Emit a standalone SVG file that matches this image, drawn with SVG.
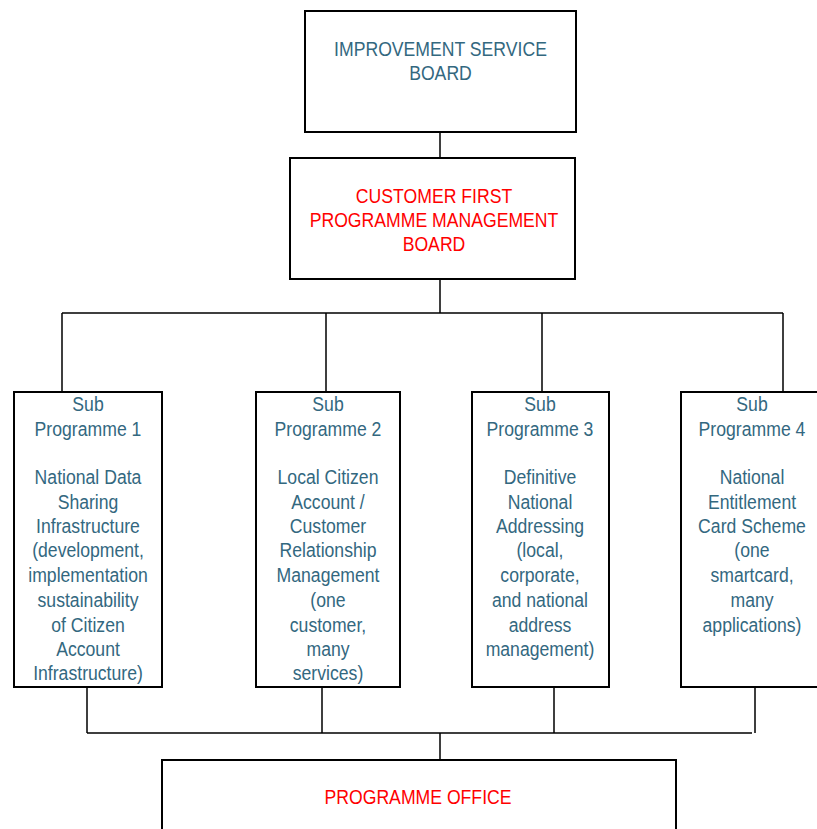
<svg xmlns="http://www.w3.org/2000/svg" width="817" height="829" viewBox="0 0 817 829">
<style>
.box{fill:#fff;stroke:#000;stroke-width:2}
.t{font-family:"Liberation Sans Narrow","Arial Narrow","Liberation Sans",sans-serif;font-size:21px;text-anchor:middle;fill:#33687f}
.r{fill:#ff0000}
.c{stroke:#000;stroke-width:1.5;fill:none}
</style>
<rect width="817" height="829" fill="#fff"/>
<g id="connectors">
<path class="c" d="M440 132V158M440 279V313M62 313H783M62 313V392M326 313V392M542 313V392M783 313V392"/>
<path class="c" d="M87 687V733M322 687V733M554 687V733M755 687V733M87 733H752M440 733V760"/>
</g>
<g id="isb">
<rect class="box" x="305" y="11" width="271" height="121"/>
<g transform="translate(440.5 0) scale(0.84 1)">
<text class="t" x="0" y="56">IMPROVEMENT SERVICE</text>
<text class="t" x="0" y="80">BOARD</text>
</g>
</g>
<g id="cfpmb">
<rect class="box" x="290" y="158" width="285" height="121"/>
<g transform="translate(434 0) scale(0.84 1)">
<text class="t r" x="0" y="203">CUSTOMER FIRST</text>
<text class="t r" x="0" y="227">PROGRAMME MANAGEMENT</text>
<text class="t r" x="0" y="251">BOARD</text>
</g>
</g>
<g id="sub1">
<rect class="box" x="14" y="392" width="148" height="295"/>
<g transform="translate(88 0) scale(0.84 1)">
<text class="t" x="0"><tspan x="0" y="411">Sub</tspan><tspan x="0" y="436">Programme 1</tspan><tspan x="0" y="484">National Data</tspan><tspan x="0" y="509">Sharing</tspan><tspan x="0" y="533">Infrastructure</tspan><tspan x="0" y="557">(development,</tspan><tspan x="0" y="582">implementation</tspan><tspan x="0" y="607">sustainability</tspan><tspan x="0" y="632">of Citizen</tspan><tspan x="0" y="656">Account</tspan><tspan x="0" y="680">Infrastructure)</tspan></text>
</g>
</g>
<g id="sub2">
<rect class="box" x="256" y="392" width="144" height="295"/>
<g transform="translate(328 0) scale(0.84 1)">
<text class="t" x="0"><tspan x="0" y="411">Sub</tspan><tspan x="0" y="436">Programme 2</tspan><tspan x="0" y="484">Local Citizen</tspan><tspan x="0" y="509">Account /</tspan><tspan x="0" y="533">Customer</tspan><tspan x="0" y="557">Relationship</tspan><tspan x="0" y="582">Management</tspan><tspan x="0" y="607">(one</tspan><tspan x="0" y="632">customer,</tspan><tspan x="0" y="656">many</tspan><tspan x="0" y="680">services)</tspan></text>
</g>
</g>
<g id="sub3">
<rect class="box" x="472" y="392" width="137" height="295"/>
<g transform="translate(540 0) scale(0.84 1)">
<text class="t" x="0"><tspan x="0" y="411">Sub</tspan><tspan x="0" y="436">Programme 3</tspan><tspan x="0" y="484">Definitive</tspan><tspan x="0" y="509">National</tspan><tspan x="0" y="533">Addressing</tspan><tspan x="0" y="557">(local,</tspan><tspan x="0" y="582">corporate,</tspan><tspan x="0" y="607">and national</tspan><tspan x="0" y="632">address</tspan><tspan x="0" y="656">management)</tspan></text>
</g>
</g>
<g id="sub4">
<rect class="box" x="681" y="392" width="150" height="295"/>
<g transform="translate(752 0) scale(0.84 1)">
<text class="t" x="0"><tspan x="0" y="411">Sub</tspan><tspan x="0" y="436">Programme 4</tspan><tspan x="0" y="484">National</tspan><tspan x="0" y="509">Entitlement</tspan><tspan x="0" y="533">Card Scheme</tspan><tspan x="0" y="557">(one</tspan><tspan x="0" y="582">smartcard,</tspan><tspan x="0" y="607">many</tspan><tspan x="0" y="632">applications)</tspan></text>
</g>
</g>
<g id="office">
<rect class="box" x="162" y="760" width="514" height="80"/>
<g transform="translate(418 0) scale(0.84 1)">
<text class="t r" x="0" y="804">PROGRAMME OFFICE</text>
</g>
</g>
</svg>
